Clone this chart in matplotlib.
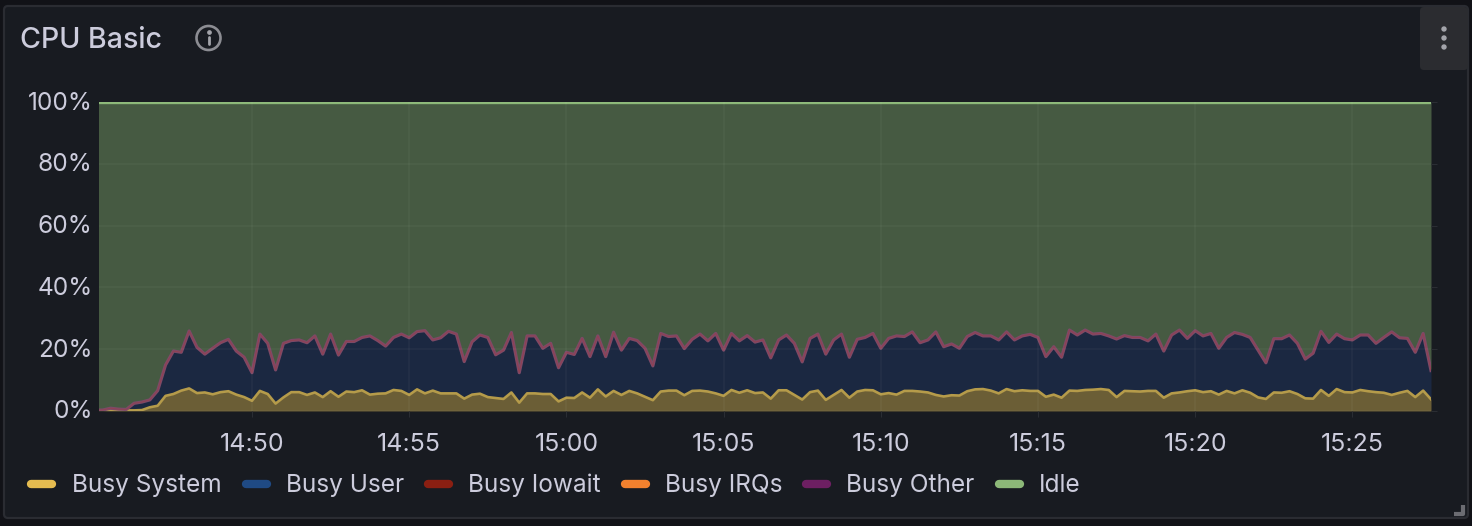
import numpy as np
import pandas as pd
import matplotlib
matplotlib.use('Agg')
import matplotlib.pyplot as plt
import matplotlib.dates as mdates
from matplotlib.patches import FancyBboxPatch, Circle
from matplotlib.transforms import ScaledTranslation

plt.rcParams['font.family'] = ['Inter', 'DejaVu Sans']

W, H = 1472, 526

# one sample every 15 s, starting 14:45:00
busy_system = [0.1, 0.1, 0.2, 0.2, 0.2, 0.2, 0.3, 1.2, 1.7, 4.9, 5.5, 6.6, 7.3, 5.8, 6.0, 5.4, 6.1, 6.4, 5.3, 4.5,
               3.3, 6.5, 5.5, 2.4, 4.4, 6.1, 6.1, 5.2, 6.0, 4.5, 6.4, 4.6, 6.3, 6.1, 6.7, 5.3, 5.6, 5.7, 6.8, 6.5,
               5.2, 7.0, 5.7, 6.6, 5.7, 5.7, 5.7, 4.0, 5.3, 5.6, 4.5, 4.2, 3.9, 6.0, 2.7, 5.7, 5.7, 5.5,
               5.5, 3.1, 4.3, 4.2, 6.0, 4.3, 7.0, 4.7, 6.5, 5.2, 6.5, 5.7, 4.6, 3.5, 6.3, 6.6, 6.6, 5.1, 6.5, 6.6,
               6.3, 5.7, 4.9, 6.8, 5.9, 6.7, 5.8, 6.0, 4.0, 6.7, 6.7, 5.2, 3.7, 6.1, 6.6, 3.6, 5.2, 6.8, 4.3, 6.3,
               6.8, 6.7, 5.4, 5.8, 5.3, 6.5, 6.5, 6.3, 6.0, 5.2, 4.7, 5.1, 5.0, 6.4, 7.0, 7.1, 6.6,
               5.7, 7.1, 6.4, 6.7, 6.5, 6.5, 4.6, 5.3, 4.3, 6.6, 6.5, 6.8, 6.9, 7.1, 6.8, 4.5, 6.5, 6.4, 6.3, 6.5,
               6.5, 4.3, 5.7, 6.0, 6.4, 6.7, 6.1, 6.4, 5.3, 6.5, 5.7, 6.7, 5.9, 4.4, 3.9, 6.0, 5.9, 6.4, 5.5, 4.1,
               4.0, 6.8, 4.9, 7.1, 6.1, 6.0, 6.8, 6.4, 6.1, 5.9, 5.2, 5.9, 6.5, 4.5, 6.6, 3.8]

# top of the busy stack (system + user + the tiny rest)
busy_total = [0.3, 0.3, 0.9, 0.6, 0.5, 2.5, 2.9, 3.6, 6.6, 14.9, 19.4, 19.0, 25.9, 20.6, 18.4, 20.3, 22.1, 23.2, 19.4, 17.4,
              12.4, 24.9, 21.9, 13.3, 21.9, 22.8, 23.0, 22.1, 24.3, 18.4, 24.9, 18.1, 22.5, 22.5, 23.8, 24.3, 22.8, 21.0, 23.8, 24.9,
              23.7, 25.7, 26.0, 23.0, 23.7, 25.8, 24.9, 16.0, 22.4, 24.6, 23.8, 18.2, 19.7, 25.4, 12.4, 24.3, 24.3, 20.3,
              21.9, 14.0, 19.0, 18.3, 23.5, 17.6, 24.3, 17.6, 25.5, 19.7, 23.5, 22.8, 20.3, 14.6, 25.1, 24.1, 24.3, 20.2, 23.2, 24.9,
              22.7, 25.1, 19.7, 25.1, 22.7, 24.4, 22.3, 23.0, 17.2, 23.0, 24.6, 21.9, 15.9, 23.5, 24.9, 18.4, 23.0, 24.9, 17.4, 23.2,
              23.8, 25.1, 20.3, 23.5, 24.3, 24.1, 25.6, 22.1, 23.0, 25.6, 20.8, 21.7, 20.3, 24.1, 25.4, 24.3, 24.3,
              23.0, 25.6, 23.0, 24.3, 24.8, 23.8, 17.6, 20.8, 17.4, 26.2, 24.6, 26.2, 24.9, 25.1, 24.3, 23.3, 24.4, 23.8, 23.8, 22.7,
              24.9, 19.4, 24.6, 26.2, 23.5, 26.0, 24.3, 25.1, 20.3, 23.8, 25.4, 24.8, 23.8, 19.7, 15.6, 23.4, 23.4, 24.6, 21.9, 16.8,
              18.7, 25.8, 22.2, 24.9, 23.4, 23.0, 24.6, 24.6, 21.9, 23.8, 25.6, 23.7, 23.5, 19.0, 25.1, 13.1]

legend_names = ['Busy System', 'Busy User', 'Busy Iowait', 'Busy IRQs', 'Busy Other', 'Idle']
legend_colors = ['#e5bc50', '#1f4a84', '#8a1f12', '#f2812e', '#6d1f62', '#8cb878']

system = np.array(busy_system)
total = np.array(busy_total)
times = pd.date_range('2024-01-01 14:45:00', periods=len(system), freq='15s')

fig = plt.figure(figsize=(W / 100, H / 100), dpi=100, facecolor='#111217')

# panel chrome, drawn in pixel coordinates
bg = fig.add_axes([0, 0, 1, 1])
bg.set_xlim(0, W)
bg.set_ylim(H, 0)
bg.axis('off')
bg.add_patch(FancyBboxPatch((4, 6), 1464, 512, boxstyle='round,pad=0,rounding_size=4',
                            fc='#181b21', ec='#2a2c32', lw=1.6))
bg.add_patch(FancyBboxPatch((1420, 7), 48, 63, boxstyle='round,pad=0,rounding_size=4',
                            fc='#2b2c30', ec='none'))
for y in [29, 38, 47]:
    bg.add_patch(Circle((1444, y), 2.7, fc='#a3a4aa', ec='none'))
bg.text(20, 40, 'CPU Basic', color='#ccccdc', fontsize=20.6, fontweight='medium', va='center', ha='left')
bg.add_patch(Circle((208.5, 38), 12, fc='none', ec='#8c8d93', lw=1.9))
bg.plot([208.5, 208.5], [37, 44], color='#a3a4aa', lw=2, solid_capstyle='round')
bg.plot([208.5], [32], 'o', color='#a3a4aa', ms=2.4)
# resize handle
bg.plot([1454, 1463, 1463], [514, 514, 505], color='#6b6c72', lw=3, solid_capstyle='butt')

# legend
swatch_x = [28, 243, 425, 622, 803, 996]
label_x = [72, 286, 468, 665, 846, 1039]
for sx, lx, name, col in zip(swatch_x, label_x, legend_names, legend_colors):
    bg.plot([sx + 3, sx + 24], [483.5, 483.5], color=col, lw=6, solid_capstyle='round')
    bg.text(lx, 485.5, name, color='#ccccdc', fontsize=17.6, va='center', ha='left')

# plot area
left, right, top, bottom = 99, 1431, 102, 411
ax = fig.add_axes([left / W, 1 - bottom / H, (right - left) / W, (bottom - top) / H])
ax.patch.set_alpha(0)
ax.fill_between(times, 0, system, color='#6b5e36', lw=0)
ax.fill_between(times, system, total, color='#1b2841', lw=0)
ax.fill_between(times, total, 100, color='#465a42', lw=0)
ax.plot(times, system, color='#b59b4a', lw=1.9, solid_joinstyle='round')
ax.plot(times, total, color='#7c4a68', lw=2.3, solid_joinstyle='round')
ax.plot(times, total, color='#94404f', lw=0.6, solid_joinstyle='round')
ax.plot(times, [100] * len(times), color='#8cb878', lw=2.4)

ax.set_xlim(pd.Timestamp('2024-01-01 14:45:08'), pd.Timestamp('2024-01-01 15:27:30'))
ax.set_ylim(0, 100)
ax.set_yticks([0, 20, 40, 60, 80, 100])
ax.set_yticklabels(['0%', '20%', '40%', '60%', '80%', '100%'])
ax.xaxis.set_major_locator(mdates.MinuteLocator(byminute=range(0, 60, 5)))
ax.xaxis.set_major_formatter(mdates.DateFormatter('%H:%M'))
ax.grid(True, color='#ffffff', alpha=0.04, lw=1.2, zorder=5)
ax.set_axisbelow(False)
ax.tick_params(axis='y', left=False, right=True, labelleft=True, length=4, color='#2a2d33',
               labelcolor='#ccccdc', labelsize=17.6, pad=0.5)
ax.tick_params(axis='x', length=4, color='#2a2d33', labelcolor='#ccccdc', labelsize=18, pad=11.5)
# y labels sit a little above their grid line
nudge = ScaledTranslation(0, 1.5 / 100, fig.dpi_scale_trans)
for lab in ax.get_yticklabels():
    lab.set_transform(lab.get_transform() + nudge)
for s in ax.spines.values():
    s.set_visible(False)

fig.savefig('out.png', dpi=100, facecolor=fig.get_facecolor())
